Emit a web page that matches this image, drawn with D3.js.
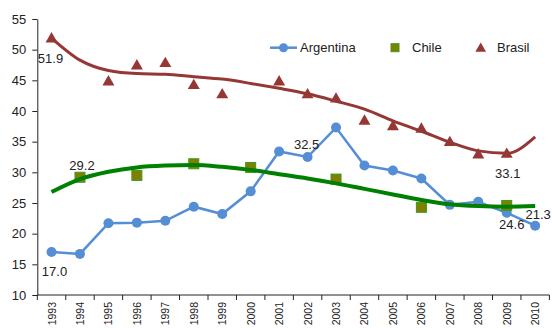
<!DOCTYPE html>
<html>
<head>
<meta charset="utf-8">
<script src="https://cdn.jsdelivr.net/npm/d3@7"></script>
<style>
  html, body { margin: 0; padding: 0; background: #fff; }
  svg { display: block; font-family: "Liberation Sans", Arial, sans-serif; }
</style>
</head>
<body>
<svg id="chart" width="552" height="328"></svg>
<script>
// Years on the category axis
const years = [1993,1994,1995,1996,1997,1998,1999,2000,2001,2002,2003,2004,2005,2006,2007,2008,2009,2010];

// Argentina: yearly values (joined line with markers)
const argentina = [17.0,16.7,21.7,21.8,22.1,24.4,23.2,26.9,33.4,32.5,37.3,31.1,30.3,29.0,24.7,25.2,23.4,21.3];

// Chile: observed years only
const chileYears = [1994,1996,1998,2000,2003,2006,2009];
const chile = [29.2,29.5,31.4,30.8,28.9,24.3,24.6];

// Brasil: observed years only
const brasilYears = [1993,1995,1996,1997,1998,1999,2001,2002,2003,2004,2005,2006,2007,2008,2009];
const brasil = [51.9,44.9,47.5,47.9,44.3,42.8,44.9,42.8,42.1,38.5,37.6,37.2,35.0,33.0,33.1];

// Trend curves, one value per year
const chileTrend = [26.8,28.9,30.1,30.8,31.1,31.2,30.9,30.4,29.7,29.0,28.2,27.3,26.4,25.5,24.8,24.5,24.4,24.5];
const brasilTrend = [51.9,48.3,46.6,46.1,46.0,45.6,45.2,44.5,43.7,42.8,41.6,40.3,38.4,36.7,34.9,33.5,33.1,35.8];

// Y axis ticks
const yTicks = [10,15,20,25,30,35,40,45,50,55];

// Value labels: series, year, value
const valueLabels = [
  { series: "Brasil", year: 1993, value: 51.9, dx: -1, dy: 25 },
  { series: "Chile", year: 1994, value: 29.2, dx: 2, dy: -7 },
  { series: "Argentina", year: 1993, value: 17.0, dx: 3, dy: 24 },
  { series: "Argentina", year: 2002, value: 32.5, dx: -1, dy: -8 },
  { series: "Brasil", year: 2009, value: 33.1, dx: 1, dy: 25 },
  { series: "Chile", year: 2009, value: 24.6, dx: 5, dy: 24 },
  { series: "Argentina", year: 2010, value: 21.3, dx: 3, dy: -7 }
];

const colors = {
  argentina: "#558ED5",
  brasil: "#953735",
  brasilTrend: "#953735",
  chileFill: "#808000",
  chileStroke: "#3A9A22",
  chileTrend: "#008000",
  axis: "#222"
};

const svg = d3.select("#chart");
const plotLeft = 37.3, plotRight = 549.4, plotTop = 19, plotBottom = 295;

const x = d3.scaleBand().domain(years).range([plotLeft, plotRight]).padding(0);
const cx = yr => x(yr) + x.bandwidth() / 2;
const y = d3.scaleLinear().domain([10, 55]).range([plotBottom, plotTop]);

// Y axis
const yAxis = svg.append("g")
  .attr("transform", `translate(${plotLeft},0)`)
  .call(d3.axisLeft(y).tickValues(yTicks).tickSize(5).tickSizeOuter(0).tickPadding(6));
yAxis.select(".domain").attr("stroke", colors.axis);
yAxis.selectAll(".tick line").attr("stroke", colors.axis);
yAxis.selectAll(".tick text").attr("fill", "#222").style("font-size", "13px");

// X axis: ticks between categories, rotated year labels at centers
const xAxis = svg.append("g").attr("transform", `translate(0,${plotBottom})`);
xAxis.append("line").attr("x1", plotLeft).attr("x2", plotRight).attr("stroke", colors.axis);
const bounds = years.map(yr => x(yr)).concat([plotRight]);
xAxis.selectAll("line.tk").data(bounds).join("line")
  .attr("class", "tk")
  .attr("x1", d => d).attr("x2", d => d)
  .attr("y1", 0).attr("y2", 5)
  .attr("stroke", colors.axis);
xAxis.selectAll("text").data(years).join("text")
  .attr("transform", d => `translate(${cx(d) + 4},7) rotate(-90)`)
  .attr("text-anchor", "end")
  .attr("fill", "#222")
  .style("font-size", "10.5px")
  .text(d => d);

const lineGen = d3.line().x(d => cx(d[0])).y(d => y(d[1]));
const smooth = d3.line().x(d => cx(d[0])).y(d => y(d[1])).curve(d3.curveMonotoneX);

// Brasil trend
svg.append("path")
  .datum(years.map((yr, i) => [yr, brasilTrend[i]]))
  .attr("d", smooth)
  .attr("fill", "none")
  .attr("stroke", colors.brasilTrend)
  .attr("stroke-width", 3);

// Brasil triangles
const tri = d3.symbol().type(d3.symbolTriangle).size(62);
svg.selectAll("path.brasil").data(brasilYears.map((yr, i) => [yr, brasil[i]])).join("path")
  .attr("class", "brasil")
  .attr("d", tri)
  .attr("transform", d => `translate(${cx(d[0])},${y(d[1]) + 1})`)
  .attr("fill", colors.brasil);

// Argentina line
svg.append("path")
  .datum(years.map((yr, i) => [yr, argentina[i]]))
  .attr("d", lineGen)
  .attr("fill", "none")
  .attr("stroke", colors.argentina)
  .attr("stroke-width", 2.5);
svg.selectAll("circle.arg").data(years.map((yr, i) => [yr, argentina[i]])).join("circle")
  .attr("class", "arg")
  .attr("cx", d => cx(d[0])).attr("cy", d => y(d[1]))
  .attr("r", 5)
  .attr("fill", colors.argentina);

// Chile squares
svg.selectAll("rect.chile").data(chileYears.map((yr, i) => [yr, chile[i]])).join("rect")
  .attr("class", "chile")
  .attr("x", d => cx(d[0]) - 5).attr("y", d => y(d[1]) - 5)
  .attr("width", 10).attr("height", 10)
  .attr("fill", colors.chileFill)
  .attr("stroke", colors.chileStroke)
  .attr("stroke-width", 1);

// Chile trend
svg.append("path")
  .datum(years.map((yr, i) => [yr, chileTrend[i]]))
  .attr("d", smooth)
  .attr("fill", "none")
  .attr("stroke", colors.chileTrend)
  .attr("stroke-width", 4);

// Value labels
svg.selectAll("text.val").data(valueLabels).join("text")
  .attr("class", "val")
  .attr("x", d => cx(d.year) + d.dx)
  .attr("y", d => y(d.value) + d.dy)
  .attr("text-anchor", "middle")
  .attr("fill", "#222")
  .style("font-size", "13px")
  .text(d => d.value.toFixed(1));

// Legend
const lg = svg.append("g").attr("transform", "translate(0,47.7)");
lg.append("line").attr("x1", 270).attr("x2", 297).attr("stroke", colors.argentina).attr("stroke-width", 2.5);
lg.append("circle").attr("cx", 283.5).attr("r", 4.5).attr("fill", colors.argentina);
lg.append("text").attr("x", 300).attr("y", 4.6).attr("fill", "#222").style("font-size", "13px").text("Argentina");
lg.append("rect").attr("x", 391).attr("y", -4).attr("width", 8).attr("height", 8)
  .attr("fill", colors.chileFill).attr("stroke", colors.chileStroke);
lg.append("text").attr("x", 412).attr("y", 4.6).attr("fill", "#222").style("font-size", "13px").text("Chile");
lg.append("path").attr("d", d3.symbol().type(d3.symbolTriangle).size(50)).attr("transform", "translate(480.7,1)").attr("fill", colors.brasil);
lg.append("text").attr("x", 497).attr("y", 4.6).attr("fill", "#222").style("font-size", "13px").text("Brasil");
</script>
</body>
</html>
